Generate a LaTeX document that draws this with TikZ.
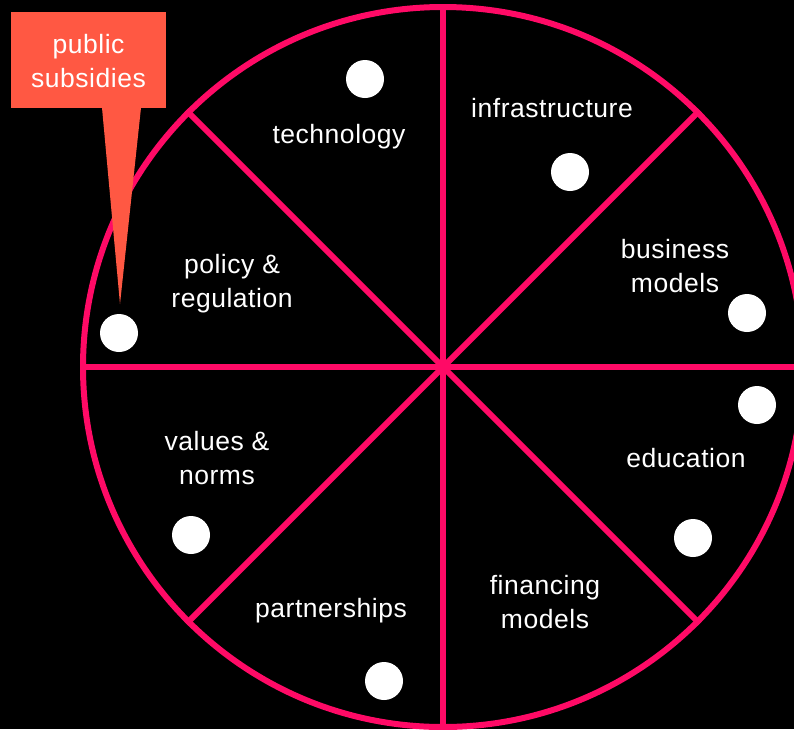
\documentclass[tikz,border=0pt]{standalone}
\usepackage{fontspec}
\setmainfont[LetterSpace=2]{Liberation Sans}
\definecolor{wheelpink}{HTML}{FF0A66}
\definecolor{callout}{HTML}{FF5843}
\begin{document}
\begin{tikzpicture}[x=1pt,y=-1pt,
  spoke/.style={draw=wheelpink,line width=6pt},
  dot/.style={circle,fill=white,minimum size=38pt,inner sep=0pt},
  lbl/.style={text=white,align=center,font=\fontsize{26.5}{34}\selectfont,inner sep=0pt},
  calloutbox/.style={fill=callout,minimum width=155pt,minimum height=96pt,inner sep=0pt}]
\useasboundingbox (0,0) rectangle (794,729);
\fill[black] (0,0) rectangle (794,729);
\clip (0,0) rectangle (794,729);
% wheel
\node[circle,draw=wheelpink,line width=6pt,minimum size=720pt,inner sep=0pt] (wheel) at (443,367) {};
\foreach \a in {0,45,...,315}{
  \draw[spoke] (wheel.center) -- (wheel.\a);
}
% dots
\node[dot] (d1) at (365,79) {};
\node[dot] (d2) at (570,172) {};
\node[dot] (d3) at (747,313) {};
\node[dot] (d4) at (757,405) {};
\node[dot] (d5) at (693,538) {};
\node[dot] (d6) at (384,681) {};
\node[dot] (d7) at (191,535) {};
\node[dot] (d8) at (119,333) {};
% labels
\node[lbl] (technology) at (339,137) {technology};
\node[lbl] (infra) at (552,108) {infrastructure};
\node[lbl] (business) at (675,266) {business\\models};
\node[lbl] (education) at (686,458) {education};
\node[lbl] (financing) at (545,602) {financing\\models};
\node[lbl] (partner) at (331,611) {partnerships};
\node[lbl] (values) at (217,458) {values \&\\norms};
\node[lbl] (policy) at (232,284) {policy \&\\regulation};
% callout
\node[calloutbox] (box) at (88.5,60) {};
\coordinate (tip) at (120,304);
\fill[callout] ([xshift=13.5pt,yshift=0.5pt]box.south) -- (tip) -- ([xshift=52.5pt,yshift=0.5pt]box.south) -- cycle;
\node[lbl] (subsidies) at ([yshift=-1pt]box.center) {public\\subsidies};
\end{tikzpicture}
\end{document}
